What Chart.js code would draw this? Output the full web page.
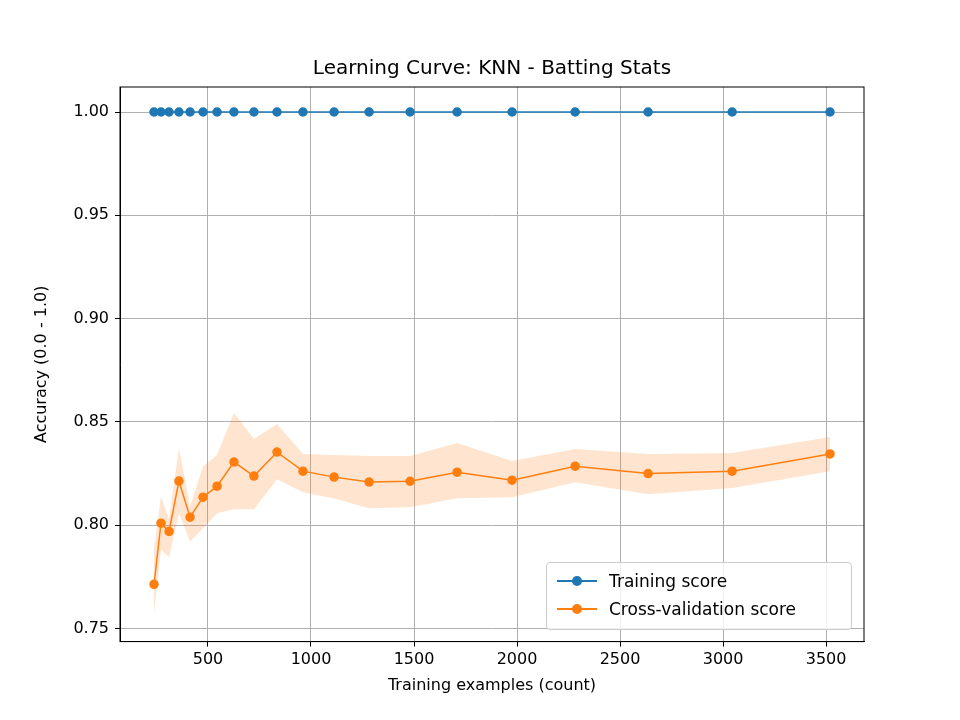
<!DOCTYPE html>
<html>
<head>
<meta charset="utf-8">
<script src="https://cdn.jsdelivr.net/npm/chart.js@4"></script>
<style>
body { margin: 0; background: #fff; font-family: "DejaVu Sans", sans-serif; }
#wrap { position: relative; width: 960px; height: 720px; }
#legend { position: absolute; left: 546px; top: 562px; width: 306px; height: 68px;
  border: 1px solid #ccc; border-radius: 4px; background: rgba(255,255,255,0.8);
  font-size: 17px; color: #000; box-sizing: border-box; padding-top: 4px; }
.row { display: flex; align-items: center; height: 28px; }
.sw { position: relative; width: 40px; margin: 0 12px 0 10px; height: 2px; }
.sw i { position: absolute; left: 15px; top: -4px; width: 10px; height: 10px; border-radius: 50%; }
</style>
</head>
<body>
<div id="wrap">
<canvas id="c" width="960" height="720"></canvas>
<div id="legend">
  <div class="row"><div class="sw" style="background:#1f77b4"><i style="background:#1f77b4"></i></div>Training score</div>
  <div class="row"><div class="sw" style="background:#ff7f0e"><i style="background:#ff7f0e"></i></div>Cross-validation score</div>
</div>
</div>
<script>
const trainSizes = [238, 272, 311, 359, 413, 476, 544, 626, 723, 835, 961, 1112, 1282, 1481, 1709, 1976, 2282, 2636, 3044, 3519];
const trainScore = [1, 1, 1, 1, 1, 1, 1, 1, 1, 1, 1, 1, 1, 1, 1, 1, 1, 1, 1, 1];
const cvScore = [0.7714, 0.801, 0.797, 0.8214, 0.8039, 0.8136, 0.8189, 0.8306, 0.8238, 0.8354, 0.8262, 0.8233, 0.8209, 0.8213, 0.8257, 0.8218, 0.8286, 0.8250, 0.8262, 0.8345];
const cvUpper = [0.7883, 0.8141, 0.8029, 0.8374, 0.8092, 0.8286, 0.8340, 0.8544, 0.8417, 0.8490, 0.8345, 0.8340, 0.8335, 0.8335, 0.8398, 0.8311, 0.8369, 0.8345, 0.8350, 0.8427];
const cvLower = [0.7573, 0.7883, 0.7845, 0.8058, 0.7922, 0.7985, 0.8058, 0.8078, 0.8078, 0.8223, 0.8160, 0.8130, 0.8082, 0.8087, 0.8131, 0.8136, 0.8208, 0.8150, 0.8180, 0.8262];
const xTicks = [500, 1000, 1500, 2000, 2500, 3000, 3500];
const yTicks = [0.75, 0.80, 0.85, 0.90, 0.95, 1.00];
const titleText = 'Learning Curve: KNN - Batting Stats';

const pts = arr => arr.map((v, i) => ({ x: trainSizes[i], y: v }));
const font = { family: 'DejaVu Sans', size: 16 };

new Chart(document.getElementById('c'), {
  type: 'line',
  data: {
    datasets: [
      { data: pts(cvUpper), borderWidth: 0, pointRadius: 0, fill: '+1', backgroundColor: 'rgba(255,127,14,0.2)', tension: 0 },
      { data: pts(cvLower), borderWidth: 0, pointRadius: 0, fill: false, tension: 0 },
      { data: pts(trainScore), borderColor: '#1f77b4', backgroundColor: '#1f77b4', borderWidth: 1.5, pointRadius: 4, fill: false },
      { data: pts(cvScore), borderColor: '#ff7f0e', backgroundColor: '#ff7f0e', borderWidth: 1.5, pointRadius: 4, fill: false }
    ]
  },
  options: {
    responsive: false,
    animation: false,
    layout: { padding: { top: 87, right: 96, bottom: 21, left: 28 } },
    plugins: {
      legend: { display: false },
      tooltip: { enabled: false },
      title: { display: false }
    },
    scales: {
      x: {
        type: 'linear', min: 73, max: 3684,
        afterBuildTicks: a => { a.ticks = xTicks.map(v => ({ value: v })); },
        grid: { color: '#b0b0b0', lineWidth: 1, drawTicks: true, tickLength: 5, tickColor: '#000' },
        border: { color: '#000' },
        ticks: { color: '#000', font, padding: 4, maxRotation: 0, callback: v => String(v) },
        title: { display: true, text: 'Training examples (count)', color: '#000', font, padding: { top: 2 } }
      },
      y: {
        min: 0.7437, max: 1.0121,
        afterBuildTicks: a => { a.ticks = yTicks.map(v => ({ value: v })); },
        afterFit: a => { a.width = 92; },
        grid: { color: '#b0b0b0', lineWidth: 1, tickLength: 5, tickColor: '#000' },
        border: { color: '#000' },
        ticks: { color: '#000', font, padding: 6, callback: v => v.toFixed(2) },
        title: { display: true, text: 'Accuracy (0.0 - 1.0)', color: '#000', font, padding: { bottom: 6 } }
      }
    }
  },
  plugins: [{
    id: 'frame',
    afterDraw(chart) {
      const { ctx, chartArea: a } = chart;
      ctx.save();
      ctx.strokeStyle = '#000';
      ctx.lineWidth = 1;
      ctx.strokeRect(a.left, a.top, a.right - a.left, a.bottom - a.top);
      ctx.fillStyle = '#000';
      ctx.font = '20px "DejaVu Sans"';
      ctx.textAlign = 'center';
      ctx.textBaseline = 'bottom';
      ctx.fillText(titleText, (a.left + a.right) / 2, a.top - 8);
      ctx.restore();
    }
  }]
});
</script>
</body>
</html>
